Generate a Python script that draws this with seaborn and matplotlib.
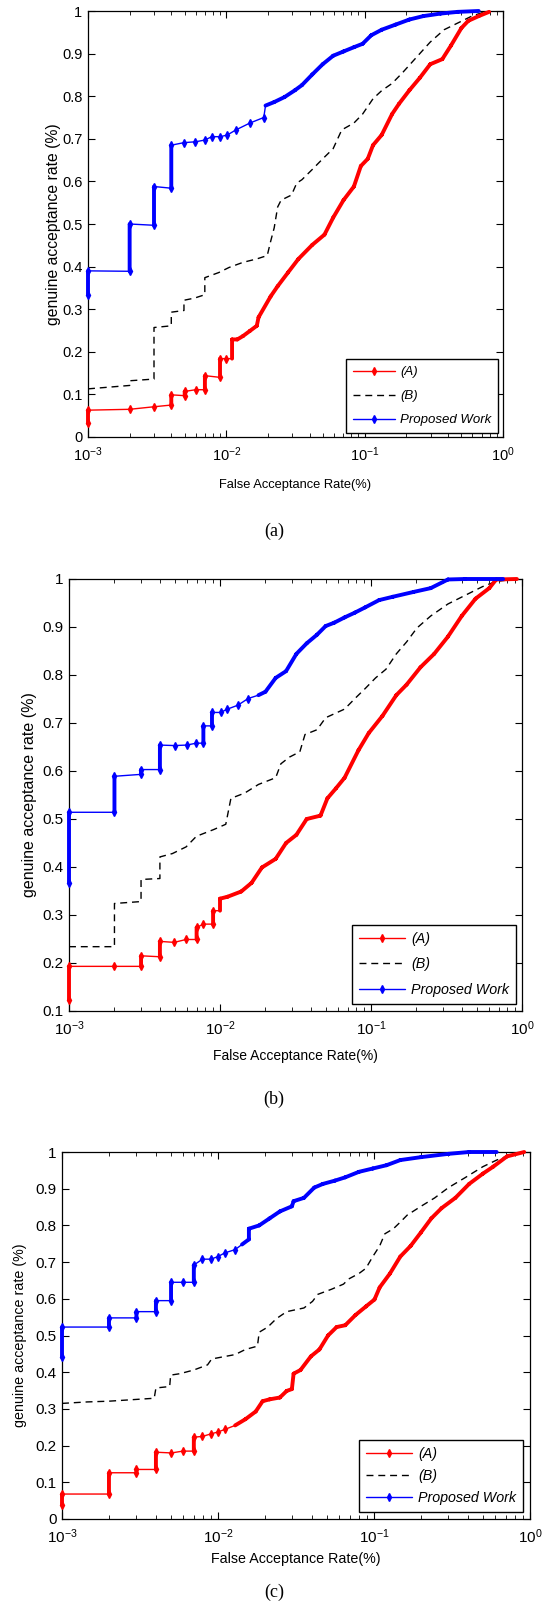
import numpy as np
import pandas as pd
import matplotlib
matplotlib.use("Agg")
import matplotlib.pyplot as plt
import seaborn as sns
from matplotlib.lines import Line2D
from matplotlib.ticker import LogLocator, NullFormatter, FuncFormatter

# ---------------- data ----------------
# panel (a)
a_A_far = [0.001, 0.001, 0.002, 0.003, 0.004, 0.004, 0.005, 0.005, 0.006, 0.007, 0.007, 0.009, 0.009, 0.010,
           0.011, 0.011, 0.012, 0.0132, 0.0148, 0.0166, 0.0171, 0.0209, 0.0235, 0.0279, 0.0332, 0.0418, 0.0512,
           0.0592, 0.0703, 0.0836, 0.0938, 0.1053, 0.1149, 0.1327, 0.1578, 0.177, 0.2106, 0.2503, 0.2977, 0.3642,
           0.4208, 0.5003, 0.5616, 0.6676, 0.7938]
a_A_gar = [0.032, 0.063, 0.065, 0.071, 0.075, 0.099, 0.097, 0.107, 0.111, 0.111, 0.144, 0.140, 0.184, 0.184,
           0.184, 0.229, 0.229, 0.237, 0.249, 0.261, 0.281, 0.330, 0.354, 0.386, 0.418, 0.451, 0.475,
           0.515, 0.556, 0.588, 0.636, 0.653, 0.685, 0.709, 0.758, 0.782, 0.814, 0.843, 0.875, 0.887,
           0.919, 0.960, 0.977, 0.988, 0.998]
a_B_far = [0.001, 0.002, 0.002, 0.003, 0.003, 0.004, 0.004, 0.00494, 0.00494, 0.00588, 0.00699, 0.00699, 0.00881,
           0.01047, 0.0132, 0.0166, 0.01976, 0.0209, 0.02218, 0.0235, 0.02489, 0.02959, 0.03227, 0.03519, 0.0418,
           0.04975, 0.0592, 0.06833, 0.0836, 0.0966, 0.1149, 0.1327, 0.1578, 0.1876, 0.2363, 0.2977, 0.375,
           0.4723, 0.5948, 0.7074, 0.7938]
a_B_gar = [0.113, 0.121, 0.132, 0.136, 0.257, 0.261, 0.293, 0.297, 0.321, 0.326, 0.334, 0.374, 0.386,
           0.398, 0.410, 0.418, 0.426, 0.459, 0.491, 0.540, 0.556, 0.568, 0.596, 0.604, 0.628,
           0.653, 0.677, 0.721, 0.737, 0.758, 0.794, 0.813, 0.830, 0.855, 0.891, 0.927, 0.956,
           0.972, 0.988, 0.996, 1.000]
a_P_far = [0.001, 0.001, 0.002, 0.002, 0.003, 0.003, 0.004, 0.004, 0.00494, 0.00597, 0.00699, 0.00785, 0.00907,
           0.01017, 0.01175, 0.0148, 0.01865, 0.0192, 0.0221, 0.02636, 0.03134, 0.0352, 0.0418, 0.0497, 0.0592,
           0.0703, 0.0836, 0.0966, 0.1115, 0.1327, 0.1671, 0.2106, 0.2652, 0.3539, 0.4723, 0.6676]
a_P_gar = [0.334, 0.390, 0.389, 0.500, 0.497, 0.588, 0.584, 0.685, 0.691, 0.693, 0.697, 0.705, 0.705,
           0.709, 0.721, 0.737, 0.750, 0.778, 0.786, 0.798, 0.814, 0.826, 0.851, 0.875, 0.895,
           0.905, 0.915, 0.923, 0.943, 0.956, 0.968, 0.980, 0.988, 0.994, 0.998, 1.000]

# panel (b)
b_A_far = [0.001, 0.001, 0.002, 0.003, 0.003, 0.004, 0.004, 0.00497, 0.00597, 0.007, 0.007, 0.00776, 0.009, 0.009,
           0.010, 0.010, 0.01121, 0.01383, 0.01619, 0.01895, 0.02338, 0.02738, 0.03205, 0.03752, 0.04629, 0.05141,
           0.05865, 0.06687, 0.08251, 0.0966, 0.1192, 0.1471, 0.1722, 0.2125, 0.262, 0.3234, 0.399, 0.4923,
           0.6074, 0.6747, 0.925]
b_A_gar = [0.123, 0.193, 0.193, 0.193, 0.215, 0.213, 0.245, 0.243, 0.249, 0.249, 0.274, 0.281, 0.281, 0.309,
           0.309, 0.334, 0.338, 0.349, 0.367, 0.399, 0.417, 0.450, 0.467, 0.500, 0.507, 0.543,
           0.564, 0.586, 0.643, 0.679, 0.715, 0.758, 0.780, 0.816, 0.844, 0.880, 0.923, 0.959,
           0.981, 0.999, 1.000]
b_B_far = [0.001, 0.002, 0.002, 0.003, 0.003, 0.004, 0.004, 0.00484, 0.00597, 0.00698, 0.00908, 0.01092, 0.01181,
           0.01457, 0.01798, 0.02338, 0.0253, 0.02885, 0.03378, 0.03655, 0.04392, 0.05009, 0.06687, 0.07829,
           0.09166, 0.1073, 0.1256, 0.1471, 0.1722, 0.2016, 0.2487, 0.3234, 0.4205, 0.5468, 0.6747, 0.925]
b_B_gar = [0.234, 0.234, 0.324, 0.328, 0.374, 0.376, 0.421, 0.428, 0.442, 0.464, 0.478, 0.489, 0.543,
           0.554, 0.572, 0.586, 0.615, 0.629, 0.640, 0.676, 0.686, 0.711, 0.729, 0.751,
           0.772, 0.794, 0.812, 0.844, 0.869, 0.898, 0.923, 0.948, 0.966, 0.984, 0.995, 1.000]
b_P_far = [0.001, 0.001, 0.002, 0.002, 0.003, 0.003, 0.004, 0.004, 0.005, 0.006, 0.00698, 0.00776, 0.00776, 0.00885,
           0.00885, 0.01009, 0.01121, 0.01312, 0.01536, 0.01798, 0.01998, 0.02338, 0.02738, 0.03205, 0.03752,
           0.04392, 0.05009, 0.05712, 0.06687, 0.07829, 0.09166, 0.1131, 0.1396, 0.1912, 0.2487, 0.3234,
           0.4205, 0.7494]
b_P_gar = [0.367, 0.514, 0.514, 0.589, 0.593, 0.603, 0.603, 0.654, 0.653, 0.654, 0.658, 0.658, 0.694, 0.694,
           0.722, 0.722, 0.729, 0.737, 0.751, 0.758, 0.765, 0.794, 0.808, 0.844, 0.866,
           0.884, 0.902, 0.909, 0.920, 0.930, 0.941, 0.956, 0.963, 0.973, 0.981, 0.999,
           1.000, 1.000]

# panel (c)
c_A_far = [0.001, 0.001, 0.002, 0.002, 0.003, 0.003, 0.004, 0.004, 0.00503, 0.00595, 0.007, 0.007, 0.00795, 0.00902,
           0.00998, 0.01105, 0.01287, 0.015, 0.01746, 0.01932, 0.0214, 0.02491, 0.02757, 0.02976, 0.03052, 0.0338,
           0.03936, 0.04468, 0.05074, 0.05761, 0.06541, 0.07619, 0.08871, 0.1007, 0.1087, 0.1266, 0.1474, 0.1717,
           0.200, 0.2329, 0.2712, 0.3323, 0.4073, 0.4989, 0.581, 0.712, 0.918]
c_A_gar = [0.039, 0.068, 0.068, 0.126, 0.126, 0.135, 0.135, 0.182, 0.180, 0.185, 0.185, 0.223, 0.225, 0.232,
           0.237, 0.244, 0.255, 0.272, 0.293, 0.321, 0.326, 0.331, 0.349, 0.354, 0.396, 0.406,
           0.443, 0.462, 0.500, 0.523, 0.528, 0.556, 0.579, 0.598, 0.631, 0.669, 0.715, 0.744,
           0.781, 0.819, 0.847, 0.875, 0.913, 0.941, 0.960, 0.988, 1.000]
c_B_far = [0.001, 0.00145, 0.002, 0.0039, 0.004, 0.0049, 0.00497, 0.00571, 0.007, 0.00857, 0.00911, 0.0105, 0.01287,
           0.015, 0.0179, 0.01837, 0.02085, 0.02368, 0.02757, 0.03555, 0.04036, 0.04357, 0.05338, 0.06375, 0.06881,
           0.08014, 0.08871, 0.09819, 0.1087, 0.1173, 0.1332, 0.1474, 0.1632, 0.200, 0.245, 0.3003, 0.3869,
           0.4989, 0.6113, 0.7491, 0.918]
c_B_gar = [0.315, 0.319, 0.321, 0.329, 0.357, 0.361, 0.392, 0.396, 0.406, 0.420, 0.436, 0.441, 0.448,
           0.462, 0.471, 0.509, 0.523, 0.546, 0.565, 0.575, 0.593, 0.612, 0.626, 0.640, 0.654,
           0.669, 0.683, 0.715, 0.744, 0.777, 0.791, 0.809, 0.828, 0.852, 0.875, 0.903, 0.931,
           0.960, 0.978, 0.992, 1.000]
c_P_far = [0.001, 0.001, 0.002, 0.002, 0.003, 0.003, 0.004, 0.004, 0.005, 0.005, 0.006, 0.007, 0.007, 0.00795,
           0.00902, 0.00998, 0.01105, 0.01287, 0.01425, 0.01578, 0.01578, 0.01837, 0.0214, 0.02491, 0.02976,
           0.03052, 0.03555, 0.0414, 0.04701, 0.05616, 0.06541, 0.08014, 0.09819, 0.1203, 0.1474, 0.200,
           0.3003, 0.4073, 0.6113]
c_P_gar = [0.441, 0.523, 0.523, 0.548, 0.548, 0.565, 0.565, 0.595, 0.595, 0.645, 0.645, 0.645, 0.692, 0.708,
           0.708, 0.715, 0.725, 0.734, 0.748, 0.762, 0.791, 0.800, 0.819, 0.838, 0.852,
           0.866, 0.875, 0.903, 0.913, 0.922, 0.931, 0.946, 0.955, 0.964, 0.978, 0.986,
           0.995, 1.000, 1.000]

legend_labels = ["(A)", "(B)", "Proposed Work"]
y_ticks_ab = [0, 0.1, 0.2, 0.3, 0.4, 0.5, 0.6, 0.7, 0.8, 0.9, 1.0]
y_ticks_b = [0.1, 0.2, 0.3, 0.4, 0.5, 0.6, 0.7, 0.8, 0.9, 1.0]
captions = ["(a)", "(b)", "(c)"]

# ---------------- style ----------------
sns.set_theme(style="ticks")
plt.rcParams["font.family"] = ["Liberation Sans", "DejaVu Sans"]
plt.rcParams["mathtext.fontset"] = "custom"
plt.rcParams["mathtext.rm"] = "Liberation Sans"
plt.rcParams["mathtext.it"] = "Liberation Sans:italic"
plt.rcParams["text.color"] = "black"
plt.rcParams["axes.edgecolor"] = "black"
plt.rcParams["xtick.color"] = "black"
plt.rcParams["ytick.color"] = "black"
plt.rcParams["axes.labelcolor"] = "black"

RED = "#ff0000"
BLUE = "#0000ff"
DASH = (0, (5, 3.5))

W, H = 544, 1604
fig = plt.figure(figsize=(W / 100, H / 100), dpi=100)


def px_axes(l, t, r, b):
    return fig.add_axes([l / W, 1 - b / H, (r - l) / W, (b - t) / H])


def draw_curve(ax, far, gar, color, dense_from, marker=True, ls="-"):
    df = pd.DataFrame({"far": far, "gar": gar})
    sns.lineplot(data=df, x="far", y="gar", sort=False, estimator=None, color=color,
                 lw=1.0, linestyle=ls, ax=ax, zorder=3)
    if not marker:
        return
    xs, ys, mx, my = [], [], [], []
    for i in range(len(far) - 1):
        if far[i] == far[i + 1] or far[i] >= dense_from:
            xs += [far[i], far[i + 1], np.nan]
            ys += [gar[i], gar[i + 1], np.nan]
    for xv, yv in zip(far, gar):
        if xv < dense_from:
            mx.append(xv)
            my.append(yv)
    ax.plot(xs, ys, color=color, lw=2.8, solid_capstyle="round", solid_joinstyle="round",
            zorder=4, clip_on=False)
    ax.plot(mx, my, ls="none", marker="d", ms=4, color=color, zorder=4, clip_on=False)


panels = [
    dict(box=(88, 11, 503, 437), ylim=(0, 1), yticks=y_ticks_ab,
         A=(a_A_far, a_A_gar, 0.011), B=(a_B_far, a_B_gar), P=(a_P_far, a_P_gar, 0.019),
         tick_fs=10.5, xl_fs=9.3, yl_fs=11.3, leg_fs=9.5, leg_gap=(5, 4), leg_sp=0.9,
         ylab_dx=27, xlab_dy=42, cap_y=531),
    dict(box=(69, 579, 522, 1011), ylim=(0.1, 1), yticks=y_ticks_b,
         A=(b_A_far, b_A_gar, 0.010), B=(b_B_far, b_B_gar), P=(b_P_far, b_P_gar, 0.017),
         tick_fs=11, xl_fs=10, yl_fs=11.5, leg_fs=10.3, leg_gap=(6, 7), leg_sp=0.8,
         ylab_dx=32, xlab_dy=38, cap_y=1099),
    dict(box=(62, 1152, 530, 1519), ylim=(0, 1), yticks=y_ticks_ab,
         A=(c_A_far, c_A_gar, 0.012), B=(c_B_far, c_B_gar), P=(c_P_far, c_P_gar, 0.0135),
         tick_fs=11, xl_fs=10.3, yl_fs=10.3, leg_fs=10.3, leg_gap=(7, 7), leg_sp=0.55,
         ylab_dx=35, xlab_dy=33, cap_y=1592),
]

for p, cap in zip(panels, captions):
    l, t, r, b = p["box"]
    ax = px_axes(l, t, r, b)
    ax.set_xscale("log")
    draw_curve(ax, p["B"][0], p["B"][1], "black", 10, marker=False, ls=DASH)
    draw_curve(ax, p["A"][0], p["A"][1], RED, p["A"][2])
    draw_curve(ax, p["P"][0], p["P"][1], BLUE, p["P"][2])

    ax.set_xlim(1e-3, 1)
    ax.set_ylim(*p["ylim"])
    ax.xaxis.set_major_locator(LogLocator(base=10, numticks=10))
    ax.xaxis.set_minor_locator(LogLocator(base=10, subs=np.arange(2, 10), numticks=30))
    ax.xaxis.set_minor_formatter(NullFormatter())
    ax.set_yticks(p["yticks"])
    ax.yaxis.set_major_formatter(FuncFormatter(lambda v, pos: "%g" % round(v, 2)))
    ax.tick_params(which="both", direction="in", top=True, right=True, bottom=True, left=True,
                   labelsize=p["tick_fs"])
    ax.tick_params(which="major", length=5, width=0.8)
    ax.tick_params(which="minor", length=3, width=0.6)
    ax.tick_params(axis="x", which="major", pad=6)
    ax.tick_params(axis="y", which="major", pad=4)
    for s in ax.spines.values():
        s.set_linewidth(0.9)
        s.set_color("black")

    ax.set_xlabel("False Acceptance Rate(%)", fontsize=p["xl_fs"])
    ax.set_ylabel("genuine acceptance rate (%)", fontsize=p["yl_fs"])
    wpx, hpx = r - l, b - t
    ax.yaxis.set_label_coords(-p["ylab_dx"] / wpx, 0.5)
    ax.xaxis.set_label_coords(0.5, -p["xlab_dy"] / hpx)

    handles = [Line2D([], [], color=RED, lw=1, marker="d", ms=4),
               Line2D([], [], color="black", lw=1, ls=DASH),
               Line2D([], [], color=BLUE, lw=1, marker="d", ms=4)]
    gx, gy = p["leg_gap"]
    leg = ax.legend(handles, legend_labels, loc="lower right",
                    bbox_to_anchor=(1 - gx / wpx, gy / hpx), borderaxespad=0,
                    frameon=True, fancybox=False, edgecolor="black", framealpha=1,
                    prop={"style": "italic", "size": p["leg_fs"]}, handlelength=3.2,
                    numpoints=1, labelspacing=p["leg_sp"], borderpad=0.5, handletextpad=0.4)
    leg.get_frame().set_linewidth(1.0)

    fig.text(274 / W, 1 - p["cap_y"] / H, cap, ha="center", va="center",
             family=["Liberation Serif", "DejaVu Serif"], fontsize=13)

fig.savefig("out.png", dpi=100)
